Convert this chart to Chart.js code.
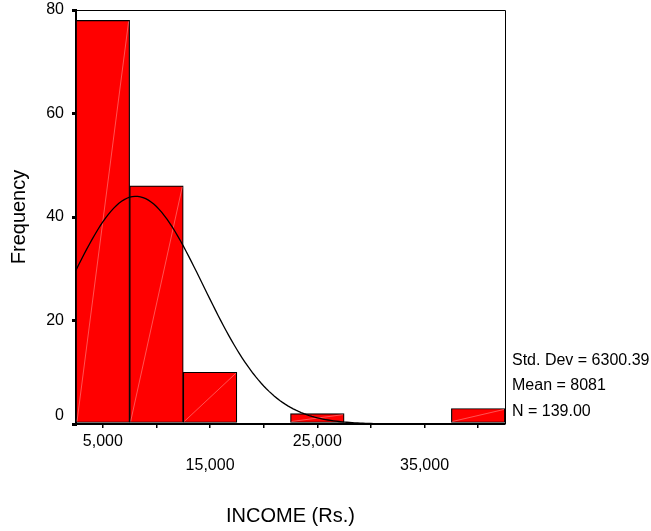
<!DOCTYPE html>
<html>
<head>
<meta charset="utf-8">
<title>INCOME (Rs.)</title>
<script src="https://cdn.jsdelivr.net/npm/chart.js@4/dist/chart.umd.min.js"></script>
<style>
  html, body { margin: 0; padding: 0; background: #ffffff; }
  canvas { display: block; }
</style>
</head>
<body>
<canvas id="histogram" width="651" height="531"></canvas>
<script>
// Histogram bins (centres, width 5,000) and their counts
const binCenters  = [5000, 10000, 15000, 20000, 25000, 30000, 35000, 40000];
const frequencies = [78, 46, 10, 0, 2, 0, 0, 3];
const binWidth = 5000;

// Axis ticks
const xTickValues = [5000, 10000, 15000, 20000, 25000, 30000, 35000, 40000];
const xTickLabels = ['5,000', '', '15,000', '', '25,000', '', '35,000', ''];
const yTickValues = [0, 20, 40, 60, 80];

// Summary statistics shown beside the plot
const stdDev = 6300.39;
const mean = 8081;
const n = 139;

const xMin = 2500, xMax = 42500;
const FONT = "Arial, 'Liberation Sans', sans-serif";

// Fitted normal curve, scaled to counts per bin
const curveX = [];
for (let x = xMin; x <= xMax; x += 250) curveX.push(x);
const peak = n * binWidth / (stdDev * Math.sqrt(2 * Math.PI));
const curvePoints = curveX.map(x => {
  const z = (x - mean) / stdDev;
  return { x: x, y: peak * Math.exp(-0.5 * z * z) };
});

const barPoints = binCenters.map((x, i) => ({ x: x, y: frequencies[i] }));

// Frame, light diagonal strokes in bars, and the statistics text
const decorations = {
  id: 'decorations',
  afterDatasetDraw(chart, args) {
    if (args.index !== 0) return;
    const ctx = chart.ctx;
    ctx.save();
    ctx.strokeStyle = 'rgba(255,170,170,0.7)';
    ctx.lineWidth = 0.7;
    args.meta.data.forEach((bar, i) => {
      if (!frequencies[i]) return;
      const p = bar.getProps(['x', 'y', 'base', 'width'], true);
      ctx.beginPath();
      ctx.moveTo(p.x - p.width / 2 + 1, p.base - 1);
      ctx.lineTo(p.x + p.width / 2 - 1, p.y + 1);
      ctx.stroke();
    });
    ctx.restore();
  },
  afterDraw(chart) {
    const ctx = chart.ctx;
    const a = chart.chartArea;
    ctx.save();
    ctx.strokeStyle = '#000';
    ctx.lineWidth = 1;
    ctx.beginPath();
    ctx.moveTo(a.left, a.top + 0.5);
    ctx.lineTo(a.right + 0.5, a.top + 0.5);
    ctx.lineTo(a.right + 0.5, a.bottom);
    ctx.stroke();

    ctx.fillStyle = '#000';
    ctx.font = '16px ' + FONT;
    ctx.textAlign = 'left';
    ctx.textBaseline = 'alphabetic';
    const lines = [
      'Std. Dev = ' + stdDev.toFixed(2),
      'Mean = ' + mean,
      'N = ' + n.toFixed(2)
    ];
    const tx = a.right + 7;
    [-59, -34, -8.5].forEach((dy, i) => ctx.fillText(lines[i], tx, a.bottom + dy));
    ctx.restore();
  }
};

new Chart(document.getElementById('histogram'), {
  type: 'bar',
  data: {
    datasets: [
      {
        type: 'bar',
        data: barPoints,
        backgroundColor: '#ff0000',
        borderColor: '#000000',
        borderWidth: 1.2,
        borderSkipped: false,
        barPercentage: 1.0,
        categoryPercentage: 1.0,
        order: 2
      },
      {
        type: 'line',
        data: curvePoints,
        borderColor: '#000000',
        borderWidth: 1.3,
        pointRadius: 0,
        fill: false,
        tension: 0,
        order: 1
      }
    ]
  },
  options: {
    responsive: false,
    animation: false,
    devicePixelRatio: 1,
    layout: { padding: { left: 0, right: 146, top: 10, bottom: 0 } },
    plugins: {
      legend: { display: false },
      tooltip: { enabled: false }
    },
    scales: {
      x: {
        type: 'linear',
        offset: false,
        min: xMin,
        max: xMax,
        afterBuildTicks(scale) {
          scale.ticks = xTickValues.map(v => ({ value: v }));
        },
        afterFit(scale) {
          scale.height = 107;
          scale.paddingLeft = 0;
          scale.paddingRight = 0;
        },
        grid: {
          offset: false,
          drawOnChartArea: false,
          drawTicks: true,
          tickLength: 4,
          color: '#000',
          lineWidth: 1.5
        },
        border: { display: true, color: '#000', width: 2 },
        ticks: {
          autoSkip: false,
          maxRotation: 0,
          padding: 1,
          color: '#000',
          font: { family: FONT, size: 16, lineHeight: 1.52 },
          callback(value) {
            const i = xTickValues.indexOf(value);
            const label = i >= 0 ? xTickLabels[i] : '';
            if (!label) return '';
            const labelled = xTickLabels.filter(l => l);
            const row = labelled.indexOf(label) % 2;
            return row === 0 ? [label, ''] : ['', label];
          }
        },
        title: {
          display: true,
          text: 'INCOME (Rs.)',
          color: '#000',
          font: { family: FONT, size: 20 },
          padding: { top: 0, bottom: 3 }
        }
      },
      y: {
        min: 0,
        max: 80,
        afterBuildTicks(scale) {
          scale.ticks = yTickValues.map(v => ({ value: v }));
        },
        afterFit(scale) {
          scale.width = 76;
          scale.paddingTop = 0;
          scale.paddingBottom = 0;
        },
        grid: {
          drawOnChartArea: false,
          drawTicks: true,
          tickLength: 4,
          color: '#000',
          lineWidth: 3
        },
        border: { display: true, color: '#000', width: 2 },
        ticks: {
          padding: 8,
          color: '#000',
          font: { family: FONT, size: 16, lineHeight: 1.0 },
          callback(value) {
            return value === 0 ? ['0', ''] : String(value);
          }
        },
        title: {
          display: true,
          text: 'Frequency',
          color: '#000',
          font: { family: FONT, size: 20 },
          padding: { top: 7, bottom: 0 }
        }
      }
    }
  },
  plugins: [decorations]
});
</script>
</body>
</html>
